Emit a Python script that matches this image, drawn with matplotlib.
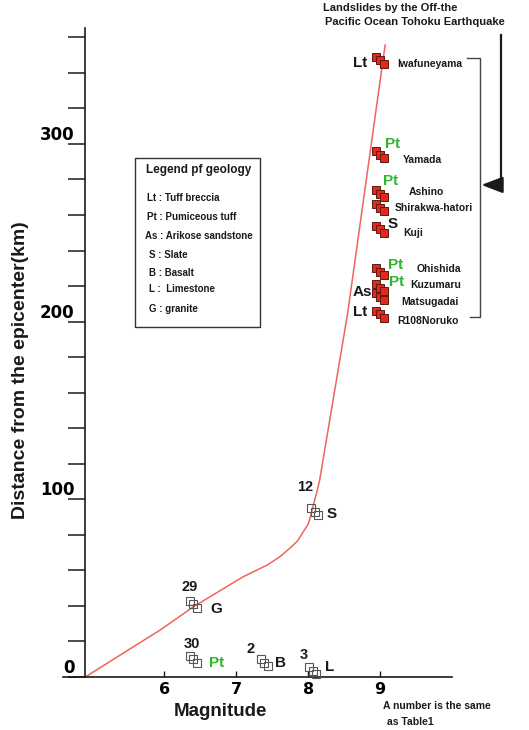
import matplotlib.pyplot as plt
from matplotlib.patches import Rectangle
from matplotlib.ticker import MultipleLocator

# limit curve of landslide distance vs magnitude
curve_mag = [4.9, 5.43, 5.94, 6.40, 6.95, 7.10, 7.43, 7.60, 7.75, 7.85, 7.93, 8.00,
             8.03, 8.09, 8.12, 8.16, 8.55, 9.07]
curve_dist = [0, 13.5, 26.4, 39.4, 52.9, 56.5, 63.0, 67.5, 72.6, 76.5, 81.6, 86.0,
              90.0, 99.6, 104.0, 110.9, 205.0, 355.6]

# landslides of the Off-the Pacific Ocean Tohoku Earthquake (M9.0)
tohoku_names = ["Iwafuneyama", "Yamada", "Ashino", "Shirakwa-hatori", "Kuji",
                "Ohishida", "Kuzumaru", "Matsugadai", "R108Noruko"]
tohoku_mag = [9.0, 9.0, 9.0, 9.0, 9.0, 9.0, 9.0, 9.0, 9.0]
tohoku_dist = [347, 294, 272, 264, 252, 228, 219, 214, 204]
tohoku_geo = ["Lt", "Pt", "Pt", "", "S", "Pt", "Pt", "As", "Lt"]

# other earthquakes (numbers as in Table1)
event_no = ["12", "29", "30", "2", "3"]
event_mag = [8.09, 6.40, 6.40, 7.39, 8.06]
event_dist = [93, 41, 10, 8, 3.5]
event_geo = ["S", "G", "Pt", "B", "L"]

legend_lines = ["Lt : Tuff breccia", "Pt : Pumiceous tuff", "As : Arikose sandstone",
                "S : Slate", "B : Basalt", "L :  Limestone", "G : granite"]

# label offsets (magnitude, km) from each cluster
name_off = [(0.235, -2), (0.32, -3), (0.40, 1), (0.21, 0), (0.32, -2),
            (0.51, 1.6), (0.42, 1.6), (0.29, -3), (0.235, -3.7)]
tgeo_off = [(-0.28, -1.5), (0.18, 6), (0.15, 7), (0, 0), (0.18, 3),
            (0.22, 4), (0.23, 3), (-0.24, 2.7), (-0.28, 1.4)]
no_off = [(-0.135, 14), (-0.05, 9.6), (-0.02, 8.6), (-0.185, 7.8), (-0.12, 8.9)]
egeo_off = [(0.23, -1.3), (0.32, -2.7), (0.32, -2.1), (0.23, -0.1), (0.24, 2.1)]

GREEN = "#2fb52f"
INK = "#1a1a1a"
SANS = "Liberation Sans"


def geo_color(g):
    return GREEN if g == "Pt" else INK


fig = plt.figure(figsize=(5.29, 7.3), dpi=100)
ax = fig.add_axes([0.1137, 0.0726, 0.7543, 0.9007])
ax.set_xlim(4.55, 10.1)
ax.set_ylim(0, 370)

for s in ["top", "right"]:
    ax.spines[s].set_visible(False)
ax.spines["left"].set_position(("data", 4.9))
ax.spines["left"].set_bounds(0, 365)
ax.spines["bottom"].set_bounds(4.59, 10.0)
for s in ["left", "bottom"]:
    ax.spines[s].set_linewidth(1.2)
    ax.spines[s].set_color(INK)

ax.set_yticks([0, 100, 200, 300])
ax.yaxis.set_minor_locator(MultipleLocator(20))
ax.tick_params(axis="y", which="both", direction="out", length=12, width=1.1,
               color=INK, pad=-4.3)
ax.tick_params(axis="y", which="major", labelsize=12)
for lab in ax.get_yticklabels():
    lab.set_fontweight("bold")
    lab.set_va("bottom")

ax.set_xticks([6, 7, 8, 9])
ax.tick_params(axis="x", direction="in", length=4, width=1.0, color=INK,
               pad=3.5, labelsize=11.5)
for lab in ax.get_xticklabels():
    lab.set_fontweight("bold")

ax.plot(curve_mag, curve_dist, color="#f0645a", lw=1.1, zorder=2)

# each record is drawn as three stacked squares
steps = [(-0.05, 2), (0, 0), (0.05, -2)]
for dx, dy in steps:
    ax.plot([m + dx for m in tohoku_mag], [d + dy for d in tohoku_dist], "s",
            ms=5.8, mfc="#e4281c", mec="#5e1810", mew=0.7, zorder=3, clip_on=False)
    ax.plot([m + dx for m in event_mag], [d + dy for d in event_dist], "s",
            ms=5.8, mfc="none", mec="#555555", mew=0.8, zorder=3, clip_on=False)

for i, name in enumerate(tohoku_names):
    ax.text(tohoku_mag[i] + name_off[i][0], tohoku_dist[i] + name_off[i][1], name,
            fontsize=7.5, fontweight="bold", family=SANS, color=INK,
            ha="left", va="center")
    if tohoku_geo[i]:
        ax.text(tohoku_mag[i] + tgeo_off[i][0], tohoku_dist[i] + tgeo_off[i][1],
                tohoku_geo[i], fontsize=11, fontweight="bold", family=SANS,
                color=geo_color(tohoku_geo[i]), ha="center", va="center")

for i, no in enumerate(event_no):
    ax.text(event_mag[i] + no_off[i][0], event_dist[i] + no_off[i][1], no,
            fontsize=10.5, fontweight="bold", family=SANS, color=INK,
            ha="center", va="center")
    ax.text(event_mag[i] + egeo_off[i][0], event_dist[i] + egeo_off[i][1], event_geo[i],
            fontsize=11, fontweight="bold", family=SANS,
            color=geo_color(event_geo[i]), ha="center", va="center", clip_on=False)

# legend of geology
ax.add_patch(Rectangle((5.591, 197.0), 1.739, 95.1, fill=False, ec="#333333", lw=1.0))
ax.text(6.474, 285.3, "Legend pf geology", fontsize=8.5, fontweight="bold",
        family=SANS, color=INK, ha="center", va="center")
leg_y = [269.6, 258.9, 248.2, 237.5, 227.3, 218.3, 207.1]
leg_x = [5.757, 5.757, 5.73, 5.785, 5.785, 5.785, 5.785]
for t, lx, ly in zip(legend_lines, leg_x, leg_y):
    ax.text(lx, ly, t, fontsize=7, fontweight="bold", family=SANS, color=INK,
            ha="left", va="center")

# bracket around the Tohoku landslides and the arrow pointing at it
ax.plot([10.21, 10.39, 10.39, 10.25], [348.3, 348.3, 202.6, 202.6],
        color="#444444", lw=1.0, clip_on=False)
ax.plot([10.68, 10.68], [361.3, 276.9], color=INK, lw=1.6, clip_on=False)
ax.annotate("", xy=(10.41, 276.9), xytext=(10.69, 276.9),
            arrowprops=dict(arrowstyle="-|>,head_length=1.3,head_width=0.5",
                            color=INK, lw=1.6, shrinkA=0, shrinkB=0),
            annotation_clip=False)

fig.text(0.6106, 0.989, "Landslides by the Off-the", fontsize=8, fontweight="bold",
         family=SANS, color=INK, ha="left", va="center")
fig.text(0.614, 0.970, "Pacific Ocean Tohoku Earthquake", fontsize=8, fontweight="bold",
         family=SANS, color=INK, ha="left", va="center")

fig.text(0.417, 0.026, "Magnitude", fontsize=13.5, fontweight="bold", family=SANS,
         color=INK, ha="center", va="center")
fig.text(0.038, 1 - 370 / 730, "Distance from the epicenter(km)", fontsize=14,
         fontweight="bold", family=SANS, color=INK, rotation=90,
         ha="center", va="center")

fig.text(0.724, 0.033, "A number is the same", fontsize=7.5, fontweight="bold",
         family=SANS, color=INK, ha="left", va="center")
fig.text(0.7316, 0.011, "as Table1", fontsize=7.5, fontweight="bold",
         family=SANS, color=INK, ha="left", va="center")

fig.savefig("out.png", dpi=100)
